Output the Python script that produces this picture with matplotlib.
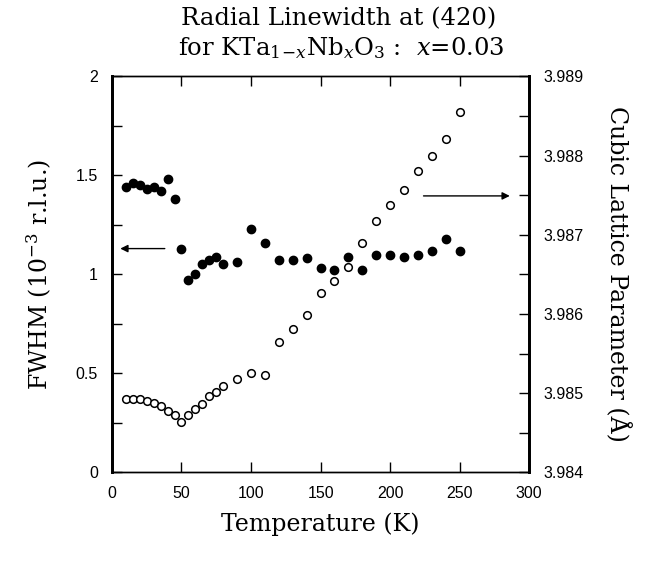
import numpy as np
import matplotlib.pyplot as plt
from matplotlib.ticker import MultipleLocator

# FWHM (filled circles, left axis)
temp_fwhm = [10, 15, 20, 25, 30, 35, 40, 45, 50, 55, 60, 65, 70, 75, 80, 90, 100, 110, 120, 130,
             140, 150, 160, 170, 180, 190, 200, 210, 220, 230, 240, 250]
fwhm = [1.44, 1.46, 1.45, 1.43, 1.44, 1.42, 1.48, 1.38, 1.13, 0.97, 1.00, 1.05, 1.07, 1.09, 1.05, 1.06,
        1.23, 1.16, 1.07, 1.07, 1.08, 1.03, 1.02, 1.09, 1.02, 1.10, 1.10, 1.09, 1.10, 1.12, 1.18, 1.12]

# lattice parameter (open circles, right axis)
temp_lat = [10, 15, 20, 25, 30, 35, 40, 45, 50, 55, 60, 65, 70, 75, 80, 90, 100, 110, 120, 130,
            140, 150, 160, 170, 180, 190, 200, 210, 220, 230, 240, 250]
lattice = [3.98493, 3.98493, 3.98492, 3.98490, 3.98488, 3.98484, 3.98478, 3.98473, 3.98463, 3.98473,
           3.98480, 3.98486, 3.98496, 3.98501, 3.98509, 3.98518, 3.98525, 3.98523, 3.98565, 3.98581,
           3.98599, 3.98626, 3.98641, 3.98659, 3.98689, 3.98717, 3.98737, 3.98757, 3.98781, 3.98800,
           3.98821, 3.98855]

plt.rcParams['mathtext.fontset'] = 'dejavuserif'
serif = 'DejaVu Serif'
sans = 'Liberation Sans'

fig = plt.figure(figsize=(6.47, 5.61), dpi=100)
ax = fig.add_axes([0.173, 0.158, 0.645, 0.706])
ax2 = ax.twinx()

ax.plot(temp_fwhm, fwhm, 'o', color='black', ms=6)
ax2.plot(temp_lat, lattice, 'o', mfc='white', mec='black', mew=1.1, ms=5.5)

ax.set_xlim(0, 300)
ax.set_ylim(0, 2)
ax2.set_ylim(3.984, 3.989)

ax.xaxis.set_major_locator(MultipleLocator(50))
ax.yaxis.set_major_locator(MultipleLocator(0.5))
ax.yaxis.set_minor_locator(MultipleLocator(0.25))
ax2.yaxis.set_major_locator(MultipleLocator(0.001))
ax2.yaxis.set_minor_locator(MultipleLocator(0.0005))
ax.set_yticks([0, 0.5, 1, 1.5, 2], ['0', '0.5', '1', '1.5', '2'])
ax2.set_yticks([3.984, 3.985, 3.986, 3.987, 3.988, 3.989],
               ['3.984', '3.985', '3.986', '3.987', '3.988', '3.989'])

ax.tick_params(axis='x', which='both', direction='in', top=True, length=7, width=1, pad=10)
ax.tick_params(axis='y', which='both', direction='in', length=7, width=1, pad=10)
ax2.tick_params(axis='y', which='both', direction='in', length=7, width=1, pad=10)
for a in (ax, ax2):
    for lab in a.get_xticklabels() + a.get_yticklabels():
        lab.set_fontfamily(sans)
        lab.set_fontsize(11.5)

for a in (ax, ax2):
    a.spines['left'].set_linewidth(2)
    a.spines['right'].set_linewidth(2)
    a.spines['top'].set_linewidth(1)
    a.spines['bottom'].set_linewidth(1)

ax.set_xlabel('Temperature (K)', family=serif, fontsize=17, labelpad=8)
ax.set_ylabel(r'FWHM (10$^{-3}$ r.l.u.)', family=serif, fontsize=17, labelpad=16)
ax2.set_ylabel('Cubic Lattice Parameter (Å)', family=serif, fontsize=17, rotation=270, labelpad=34)

fig.text(0.523, 0.988, 'Radial Linewidth at (420)', family=serif, fontsize=17.5, ha='center', va='top')
fig.text(0.528, 0.938, r'for KTa$_{1\!-\!x}$Nb$_x$O$_3$ :  $x$=0.03', family=serif, fontsize=17.5,
         ha='center', va='top')

# arrows pointing to the relevant axes
ax.annotate('', xy=(4, 1.13), xytext=(40, 1.13),
            arrowprops=dict(arrowstyle='-|>', color='black', lw=1, mutation_scale=11))
ax2.annotate('', xy=(288, 3.98749), xytext=(222, 3.98749),
             arrowprops=dict(arrowstyle='-|>', color='black', lw=1, mutation_scale=11))

fig.savefig('out.png', dpi=100)
